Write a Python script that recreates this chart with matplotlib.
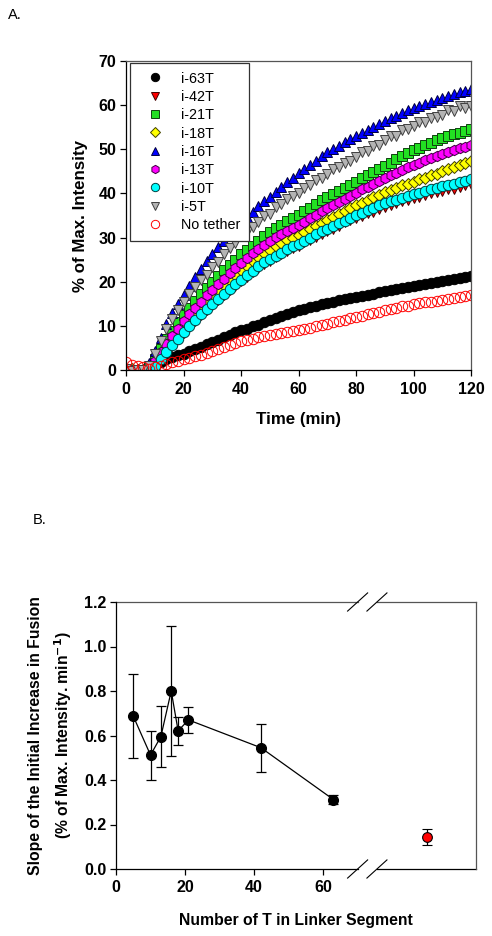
import numpy as np
import matplotlib
matplotlib.use("Agg")
import matplotlib.pyplot as plt

plt.rcParams['font.family'] = ['Liberation Sans', 'DejaVu Sans']

# ---------------- Panel A data ----------------
time_min = list(range(0, 121, 2))

i63T = [0.0, -0.2, -0.4, -0.1, 0.5, 1.3, 1.9, 2.4, 2.9, 3.3, 3.7, 4.2, 4.8, 5.3, 5.9, 6.4,
        6.9, 7.4, 8.0, 8.5, 9.0, 9.4, 9.9, 10.3, 10.8, 11.3, 11.7, 12.2, 12.6, 13.1, 13.5,
        13.8, 14.2, 14.5, 14.9, 15.2, 15.5, 15.8, 16.1, 16.3, 16.6, 16.8, 17.1, 17.3, 17.6,
        17.8, 18.1, 18.3, 18.6, 18.8, 19.0, 19.3, 19.5, 19.7, 19.9, 20.1, 20.4, 20.6, 20.8,
        21.0, 21.2]
i42T = [0.0, -0.2, 0.1, -0.1, 0.2, 1.1, 2.6, 4.1, 5.5, 7.0, 8.4, 9.8, 11.1, 12.4, 13.6, 14.8,
        15.9, 17.0, 18.1, 19.1, 20.1, 21.1, 22.1, 23.0, 23.9, 24.7, 25.5, 26.2, 26.9, 27.6,
        28.2, 28.9, 29.5, 30.2, 30.8, 31.4, 32.0, 32.6, 33.6, 34.0, 34.4, 34.9, 35.5, 35.9,
        36.5, 37.0, 37.4, 37.8, 38.2, 38.6, 39.0, 39.3, 39.6, 40.0, 40.3, 40.6, 40.9, 40.9,
        41.5, 41.8, 42.2]
i21T = [0.0, 0.1, -0.2, 0.0, 0.6, 2.6, 4.8, 7.0, 8.9, 10.8, 12.5, 14.1, 15.7, 17.2, 18.6, 20.0,
        21.3, 22.6, 23.8, 25.0, 26.2, 27.2, 28.2, 29.3, 30.3, 31.2, 32.1, 32.9, 33.7, 34.5,
        35.2, 36.0, 36.8, 37.6, 38.4, 39.2, 39.9, 40.6, 41.3, 42.0, 42.7, 43.4, 44.1, 44.9,
        45.6, 46.3, 47.0, 47.7, 48.4, 49.1, 49.8, 50.4, 50.9, 51.5, 52.0, 52.5, 53.0, 53.4,
        53.8, 54.2, 54.6]
i18T = [0.0, 0.2, -0.1, 0.0, 0.2, 1.5, 3.4, 5.2, 6.9, 8.5, 10.0, 11.4, 12.8, 14.2, 15.5, 16.8,
        18.0, 19.2, 20.4, 21.5, 22.6, 23.6, 24.6, 25.5, 26.4, 27.2, 28.0, 28.7, 29.4, 30.0,
        30.5, 31.2, 31.9, 32.6, 33.3, 34.0, 34.7, 35.4, 36.0, 36.7, 37.3, 37.9, 38.5, 39.1,
        39.7, 40.3, 40.8, 41.3, 41.8, 42.2, 42.7, 43.2, 43.6, 44.1, 44.5, 45.0, 45.5, 45.9,
        46.4, 46.8, 47.3]
i16T = [0.0, 0.1, -0.2, 0.3, 1.5, 4.2, 7.3, 10.4, 12.8, 15.0, 17.0, 19.0, 21.0, 22.8, 24.6,
        26.3, 27.8, 29.3, 30.7, 32.1, 33.5, 34.7, 35.9, 37.1, 38.2, 39.3, 40.4, 41.5, 42.6,
        43.6, 44.6, 45.5, 46.4, 47.3, 48.4, 49.3, 50.0, 50.8, 51.6, 52.3, 53.0, 53.7, 54.4,
        55.1, 55.8, 56.5, 57.0, 57.6, 58.2, 58.8, 59.3, 59.8, 60.3, 60.8, 61.2, 61.7, 62.1,
        62.5, 62.9, 63.3, 63.7]
i13T = [0.1, -0.1, 0.0, -0.2, 0.3, 2.0, 4.0, 6.0, 7.7, 9.4, 11.0, 12.6, 14.0, 15.5, 16.9, 18.2,
        19.5, 20.7, 21.9, 23.1, 24.3, 25.4, 26.5, 27.5, 28.4, 29.3, 30.1, 30.8, 31.6, 32.2,
        32.8, 33.6, 34.4, 35.2, 36.0, 36.7, 37.4, 38.1, 38.8, 39.5, 40.2, 40.9, 41.5, 42.2,
        42.9, 43.5, 44.1, 44.7, 45.3, 45.9, 46.5, 47.0, 47.5, 48.0, 48.5, 49.0, 49.4, 49.8,
        50.2, 50.6, 51.0]
i10T = [-0.1, 0.1, -0.3, 0.0, 0.1, 1.0, 2.5, 4.0, 5.6, 7.1, 8.5, 10.0, 11.3, 12.6, 13.8, 15.0,
        16.1, 17.2, 18.3, 19.4, 20.5, 21.5, 22.5, 23.5, 24.4, 25.2, 25.9, 26.6, 27.3, 28.0,
        28.6, 29.3, 30.0, 30.7, 31.4, 32.0, 32.6, 33.2, 33.8, 34.4, 35.0, 35.6, 36.2, 36.7,
        37.3, 37.8, 38.2, 38.6, 39.0, 39.4, 39.8, 40.2, 40.5, 40.9, 41.2, 41.6, 41.9, 42.2,
        42.6, 42.9, 43.2]
i5T = [0.2, -0.3, 0.1, 0.0, 1.0, 3.6, 6.5, 9.3, 11.5, 13.6, 15.5, 17.3, 18.8, 20.3, 21.5, 23.3,
       24.5, 26.3, 27.6, 28.8, 30.5, 31.2, 32.4, 33.6, 34.8, 35.4, 36.9, 37.6, 38.8, 39.4,
       40.2, 41.3, 41.8, 43.0, 43.5, 44.5, 45.6, 45.9, 47.0, 47.4, 48.3, 49.3, 49.6, 50.8,
       51.0, 52.0, 52.9, 53.1, 54.3, 54.5, 55.3, 56.2, 56.1, 57.2, 57.3, 57.8, 58.8, 58.6,
       59.7, 59.3, 59.7]
no_tether = [1.9, 1.2, 0.9, 0.6, 0.3, 0.6, 1.0, 1.4, 1.7, 2.1, 2.5, 2.8, 3.2, 3.5, 3.9, 4.3,
             4.7, 5.2, 5.6, 6.1, 6.5, 6.8, 7.1, 7.4, 7.7, 8.0, 8.2, 8.4, 8.6, 8.8, 9.0, 9.3,
             9.6, 9.9, 10.2, 10.5, 10.8, 11.1, 11.4, 11.7, 12.0, 12.3, 12.6, 12.9, 13.2, 13.5,
             13.8, 14.1, 14.4, 14.6, 14.9, 15.1, 15.3, 15.5, 15.7, 15.9, 16.1, 16.3, 16.5,
             16.8, 17.0]

series_labels = ['i-63T', 'i-42T', 'i-21T', 'i-18T', 'i-16T', 'i-13T', 'i-10T', 'i-5T', 'No tether']
series_values = [i63T, i42T, i21T, i18T, i16T, i13T, i10T, i5T, no_tether]

# ---------------- Panel B data ----------------
linker_T = [5, 10, 13, 16, 18, 21, 42, 63]
slope = [0.687, 0.512, 0.595, 0.80, 0.621, 0.670, 0.545, 0.312]
slope_err = [0.19, 0.11, 0.138, 0.29, 0.064, 0.06, 0.107, 0.02]
no_tether_x = 90
no_tether_slope = 0.145
no_tether_err = 0.035

# ---------------- styles ----------------
styles = [
    dict(marker='o', mfc='black', mec='black', ms=7.5),
    dict(marker='v', mfc='#ff0000', mec='#400000', ms=7.5),
    dict(marker='s', mfc='#22e022', mec='#104010', ms=6.8),
    dict(marker='D', mfc='#ffff00', mec='#404000', ms=6.2),
    dict(marker='^', mfc='#0000ff', mec='#000040', ms=7.5),
    dict(marker='h', mfc='#ff00ff', mec='#400040', ms=7.5),
    dict(marker='o', mfc='#00ffff', mec='#004040', ms=7.5),
    dict(marker='v', mfc='#b4b4b4', mec='#404040', ms=7.5),
    dict(marker='o', mfc='none', mec='#ff0000', ms=7.5),
]

TICK_FS = 11.5

fig = plt.figure(figsize=(4.92, 9.36), dpi=100)

# ---------------- Panel A ----------------
axA = fig.add_axes([126/492, 1-370/936, 345/492, 309/936])
for lab, vals, st in zip(series_labels, series_values, styles):
    axA.plot(time_min, vals, linestyle='none', label=lab, mew=0.7, **st)
axA.set_xlim(0, 120)
axA.set_ylim(0, 70)
axA.set_xticks(range(0, 121, 20))
axA.set_yticks(range(0, 71, 10))
for lbl in axA.get_xticklabels() + axA.get_yticklabels():
    lbl.set_fontsize(TICK_FS)
    lbl.set_fontweight('bold')
axA.tick_params(direction='out', length=4, width=0.9, pad=3)
axA.tick_params(axis='x', pad=5)
for s in ['top', 'right']:
    axA.spines[s].set_color('#555555')
    axA.spines[s].set_linewidth(0.9)
for s in ['left', 'bottom']:
    axA.spines[s].set_linewidth(0.9)
axA.set_xlabel('Time (min)', fontsize=12.2, fontweight='bold')
axA.set_ylabel('% of Max. Intensity', fontsize=12.2, fontweight='bold')
axA.xaxis.set_label_coords(0.5, -0.135)
axA.yaxis.set_label_coords(-0.11, 0.5)
leg = axA.legend(loc='upper left', bbox_to_anchor=(0.012, 0.994), borderaxespad=0,
                 fancybox=False, framealpha=1, edgecolor='#333333', fontsize=10.4,
                 handlelength=2.3, handletextpad=0.65, labelspacing=0.3, borderpad=0.6,
                 markerscale=0.8)
leg.get_frame().set_linewidth(0.9)

fig.text(8/492, 1-15/936, 'A.', fontsize=10.5, va='center', ha='left')

# ---------------- Panel B ----------------
axB = fig.add_axes([116/492, 1-869/936, 360/492, 267/936])
axB.errorbar(linker_T, slope, yerr=slope_err, color='black', marker='o', ms=7,
             mfc='black', mec='black', lw=0.9, elinewidth=0.9, capsize=3.8, capthick=0.9)
axB.errorbar([no_tether_x], [no_tether_slope], yerr=[no_tether_err], color='black',
             marker='o', ms=7, mfc='#ff0000', mec='black', mew=0.8, lw=0,
             elinewidth=0.9, capsize=3.8, capthick=0.9)
axB.set_xlim(0, 104.3)
axB.set_ylim(0, 1.2)
axB.set_xticks([0, 20, 40, 60])
axB.set_yticks(np.arange(0, 1.21, 0.2))
axB.set_yticklabels(['%.1f' % v for v in np.arange(0, 1.21, 0.2)])
for lbl in axB.get_xticklabels() + axB.get_yticklabels():
    lbl.set_fontsize(TICK_FS)
    lbl.set_fontweight('bold')
axB.tick_params(direction='out', length=4, width=0.9, pad=3)
axB.tick_params(axis='x', pad=4)
axB.spines['top'].set_visible(False)
axB.spines['bottom'].set_visible(False)
axB.spines['right'].set_color('#555555')
axB.spines['right'].set_linewidth(0.9)
axB.spines['left'].set_linewidth(0.9)

# broken top / bottom spines
brk_a, brk_b = 70.0, 75.6
xt = axB.get_xaxis_transform()
for y, col in [(0, 'black'), (1, '#555555')]:
    axB.plot([0, brk_a], [y, y], color=col, lw=0.9, transform=xt, clip_on=False)
    axB.plot([brk_b, 104.3], [y, y], color=col, lw=0.9, transform=xt, clip_on=False)
    for xc in (brk_a, brk_b):
        axB.plot([xc - 2.9, xc + 2.9], [y - 0.034, y + 0.034], color='black', lw=0.8,
                 transform=xt, clip_on=False)

axB.set_xlabel('Number of T in Linker Segment', fontsize=11.3, fontweight='bold')
axB.set_ylabel('Slope of the Initial Increase in Fusion\n(% of Max. Intensity. min$^{\\mathbf{-1}}$)',
               fontsize=11.3, fontweight='bold', linespacing=1.55)
axB.xaxis.set_label_coords(0.5, -0.165)
axB.yaxis.set_label_coords(-0.118, 0.5)

fig.text(33/492, 1-520/936, 'B.', fontsize=10.5, va='center', ha='left')

fig.savefig('out.png', dpi=100)
